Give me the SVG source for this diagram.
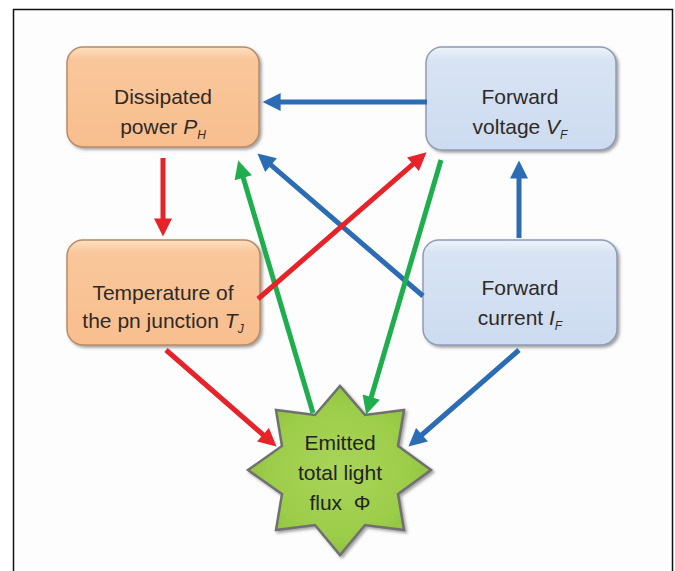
<svg xmlns="http://www.w3.org/2000/svg" width="675" height="571" viewBox="0 0 675 571">
  <style>
    .lbl { font-family: "Liberation Sans", Arial, sans-serif; font-size: 21px; fill: #2f2a26; text-anchor: middle; }
    .it { font-style: italic; }
    .sub { font-style: italic; font-size: 12px; }
    .orange { fill: url(#gOrange); stroke: #b98a66; stroke-width: 1.5; filter: url(#shadow); }
    .blue { fill: url(#gBlue); stroke: #8e9cb5; stroke-width: 1.5; filter: url(#shadow); }
    .r { stroke: #e52329; stroke-width: 5; fill: none; marker-end: url(#aR); }
    .b { stroke: #2b6cb4; stroke-width: 5; fill: none; marker-end: url(#aB); }
    .g { stroke: #1eae4e; stroke-width: 5; fill: none; marker-end: url(#aG); }
  </style>
  <defs>
    <linearGradient id="gOrange" x1="0" y1="0" x2="0" y2="1">
      <stop offset="0" stop-color="#fde0c2"/>
      <stop offset="0.12" stop-color="#f9c79b"/>
      <stop offset="1" stop-color="#f8be8e"/>
    </linearGradient>
    <linearGradient id="gBlue" x1="0" y1="0" x2="0" y2="1">
      <stop offset="0" stop-color="#eef3fb"/>
      <stop offset="0.12" stop-color="#d8e4f4"/>
      <stop offset="1" stop-color="#cddbf0"/>
    </linearGradient>
    <radialGradient id="gStar" cx="0.5" cy="0.5" r="0.55">
      <stop offset="0" stop-color="#a9d45a"/>
      <stop offset="0.7" stop-color="#9ccd49"/>
      <stop offset="1" stop-color="#8cc03c"/>
    </radialGradient>
    <filter id="shadow" x="-10%" y="-10%" width="125%" height="125%">
      <feDropShadow dx="2" dy="2" stdDeviation="1.5" flood-color="#555" flood-opacity="0.55"/>
    </filter>
    <marker id="aR" viewBox="0 0 10 10" refX="7" refY="5" markerWidth="4" markerHeight="3.6" orient="auto">
      <path d="M0,0 L10,5 L0,10 Z" fill="#e52329"/>
    </marker>
    <marker id="aB" viewBox="0 0 10 10" refX="7" refY="5" markerWidth="4" markerHeight="3.6" orient="auto">
      <path d="M0,0 L10,5 L0,10 Z" fill="#2b6cb4"/>
    </marker>
    <marker id="aG" viewBox="0 0 10 10" refX="7" refY="5" markerWidth="4" markerHeight="3.6" orient="auto">
      <path d="M0,0 L10,5 L0,10 Z" fill="#1eae4e"/>
    </marker>
  </defs>

  <rect x="0" y="0" width="675" height="571" fill="#ffffff"/>
  <rect x="13.5" y="9.5" width="659" height="580" fill="#fdfdfd" stroke="#111" stroke-width="1.5"/>

  <g id="node-dissipated">
    <rect class="orange" x="67" y="47" width="192" height="100" rx="16"/>
    <text class="lbl" x="163" y="104">Dissipated</text>
    <text class="lbl" x="163" y="134">power <tspan class="it">P</tspan><tspan class="sub" dy="5">H</tspan></text>
  </g>

  <g id="node-voltage">
    <rect class="blue" x="426" y="47" width="190" height="103" rx="16"/>
    <text class="lbl" x="520" y="104">Forward</text>
    <text class="lbl" x="520" y="134">voltage <tspan class="it">V</tspan><tspan class="sub" dy="5">F</tspan></text>
  </g>

  <g id="node-temperature">
    <rect class="orange" x="67" y="240" width="193" height="105" rx="16"/>
    <text class="lbl" x="163" y="300">Temperature of</text>
    <text class="lbl" x="163" y="328">the pn junction <tspan class="it">T</tspan><tspan class="sub" dy="5">J</tspan></text>
  </g>

  <g id="node-current">
    <rect class="blue" x="423" y="240" width="194" height="105" rx="16"/>
    <text class="lbl" x="520" y="295">Forward</text>
    <text class="lbl" x="520" y="325">current <tspan class="it">I</tspan><tspan class="sub" dy="5">F</tspan></text>
  </g>

  <g id="node-flux">
    <polygon points="340,386 365,415 404,410 398,446 431,470 398,494 404,530 365,525 340,555 315,525 276,530 282,494 248,470 282,446 276,410 315,415" fill="url(#gStar)" stroke="#6f6f6f" stroke-width="2.5" stroke-linejoin="miter" filter="url(#shadow)"/>
    <text class="lbl" x="340" y="450" style="fill:#232320">Emitted</text>
    <text class="lbl" x="340" y="480" style="fill:#232320">total light</text>
    <text class="lbl" x="340" y="510" style="fill:#232320;white-space:pre">flux  Φ</text>
  </g>

  <g id="connectors">
    <path class="b" d="M427,102 L268,102"/>
    <path class="r" d="M163,158 L163,231"/>
    <path class="b" d="M519,238 L519,166"/>
    <path class="g" d="M313,413 L239.7,165.7"/>
    <path class="b" d="M423,296 L261.5,156.9"/>
    <path class="r" d="M258,299 L422.5,155.9"/>
    <path class="g" d="M441,160 L367.7,409.2"/>
    <path class="r" d="M166,350 L272.5,443"/>
    <path class="b" d="M519,350 L412.5,443"/>
  </g>
</svg>
